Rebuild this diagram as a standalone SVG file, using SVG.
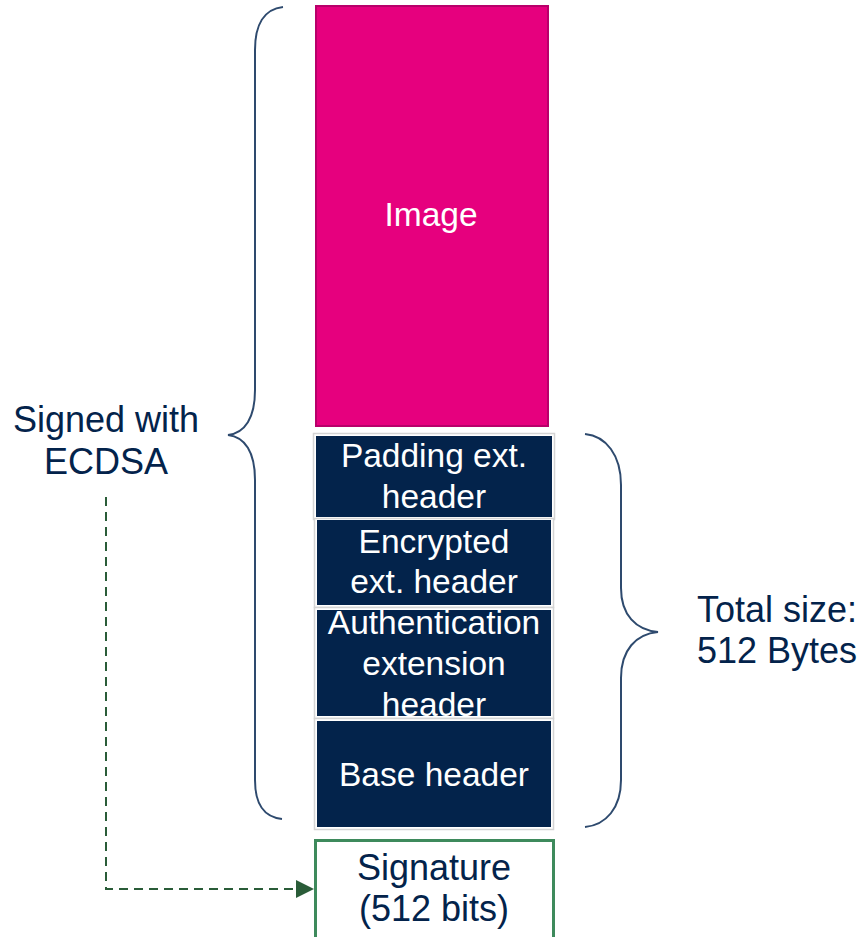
<svg xmlns="http://www.w3.org/2000/svg" width="866" height="937" viewBox="0 0 866 937">
  <defs>
    <style>
      .t { font-family: "Liberation Sans", Arial, sans-serif; }
      .w { fill: #FFFFFF; font-size: 33.5px; text-anchor: middle; }
      .n { fill: #03234B; font-size: 36px; }
      .outer { fill: #FFFFFF; stroke: #D4D4D4; stroke-width: 1.5; }
      .blk { fill: #03234B; }
      .brace { fill: none; stroke: #2E4A6E; stroke-width: 2; }
    </style>
    <clipPath id="clipAuth">
      <rect x="317" y="610" width="234" height="106"/>
    </clipPath>
  </defs>
  <rect width="866" height="937" fill="#FFFFFF"/>

  <g id="image">
    <rect x="316" y="6" width="232" height="420" fill="#E6007E" stroke="#B8006A" stroke-width="2"/>
    <text class="t w" x="431" y="226" font-size="32">Image</text>
  </g>

  <g id="padding">
    <rect class="outer" x="313.5" y="433.5" width="241" height="86"/>
    <rect class="blk" x="316" y="436" width="236" height="81"/>
    <text class="t w" x="434" y="467">Padding ext.</text>
    <text class="t w" x="434" y="508">header</text>
  </g>

  <g id="encrypted">
    <rect class="outer" x="314.5" y="518.5" width="239" height="89"/>
    <rect class="blk" x="317" y="520" width="234" height="85"/>
    <text class="t w" x="434" y="553">Encrypted</text>
    <text class="t w" x="434" y="593">ext. header</text>
  </g>

  <g id="authentication">
    <rect class="outer" x="314.5" y="607.5" width="239" height="111"/>
    <rect class="blk" x="317" y="610" width="234" height="106"/>
    <g clip-path="url(#clipAuth)">
      <text class="t w" x="434" y="634">Authentication</text>
      <text class="t w" x="434" y="675">extension</text>
      <text class="t w" x="434" y="716">header</text>
    </g>
  </g>

  <g id="base">
    <rect class="outer" x="314.5" y="718.5" width="239" height="111"/>
    <rect class="blk" x="317" y="721" width="234" height="106"/>
    <text class="t w" x="434" y="786">Base header</text>
  </g>

  <g id="signature">
    <rect x="315.5" y="840.5" width="238" height="110" fill="#FFFFFF" stroke="#3E8A5C" stroke-width="3"/>
    <text class="t n" x="434" y="880" text-anchor="middle">Signature</text>
    <text class="t n" x="434" y="921" text-anchor="middle">(512 bits)</text>
  </g>

  <g id="signed-label">
    <path class="brace" d="M283,7 C264,9 255,25 255,50 L255,390 C255,418 245,433 228,435 C245,437 255,452 255,480 L255,780 C255,805 264,817 282,819"/>
    <text class="t n" x="106" y="432" text-anchor="middle">Signed with</text>
    <text class="t n" x="106" y="474" text-anchor="middle">ECDSA</text>
  </g>

  <g id="size-label">
    <path class="brace" d="M585,434 C606,436 621,455 621,485 L621,588 C621,615 636,630 658,632 C636,634 621,650 621,678 L621,780 C621,808 606,825 585,827"/>
    <text class="t n" x="697" y="622">Total size:</text>
    <text class="t n" x="697" y="663">512 Bytes</text>
  </g>

  <g id="connectors">
    <path d="M106,497 L106,889 L297,889" fill="none" stroke="#2A5C38" stroke-width="2" stroke-dasharray="9 6"/>
    <path d="M296,880 L314,889 L296,898 Z" fill="#2A5C38"/>
  </g>
</svg>
